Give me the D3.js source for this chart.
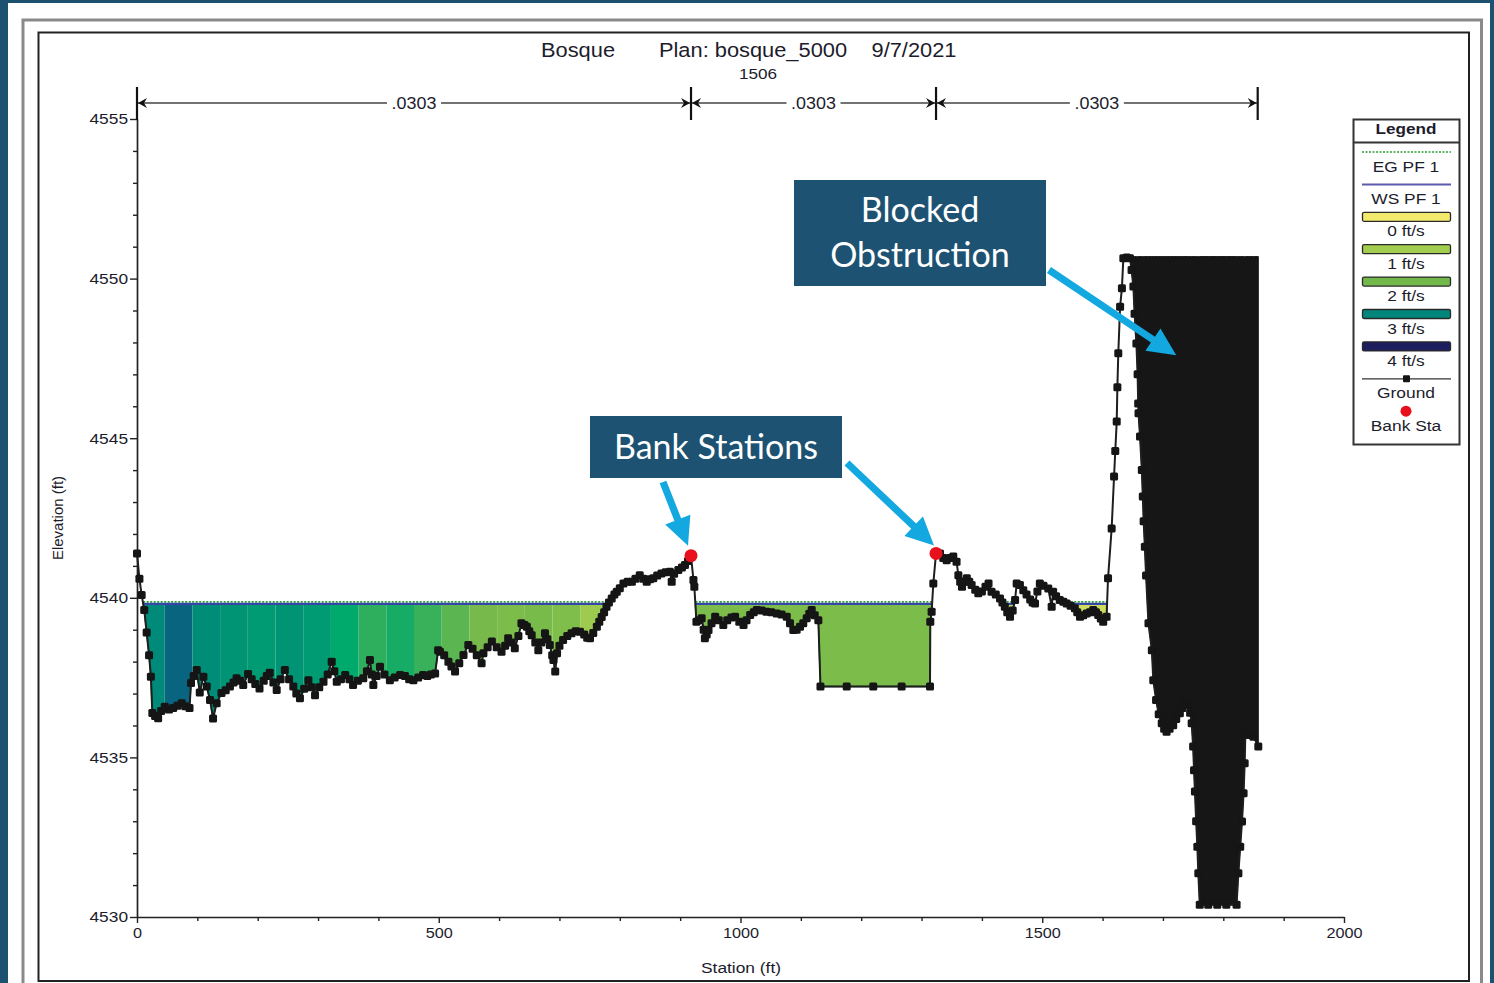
<!DOCTYPE html>
<html><head><meta charset="utf-8">
<script src="https://cdn.jsdelivr.net/npm/d3@7"></script>
<style>
html,body{margin:0;padding:0;background:#1d5170;}
svg{display:block;}
</style></head>
<body>
<svg id="chart" width="1494" height="983"></svg>
<script>
// ---------------- DATA ----------------
const titleParts = ["Bosque", "Plan: bosque_5000", "9/7/2021"];
const subTitle = "1506";
const xLabel = "Station (ft)";
const yLabel = "Elevation (ft)";
const xMajorTicks = [0, 500, 1000, 1500, 2000];
const xMinorTicks = [100,200,300,400,600,700,800,900,1100,1200,1300,1400,1600,1700,1800,1900];
const yMajorTicks = [4530, 4535, 4540, 4545, 4550, 4555];
const yMinorTicks = [4531,4532,4533,4534,4536,4537,4538,4539,4541,4542,4543,4544,4546,4547,4548,4549,4551,4552,4553,4554];

// ground stations (ft) and elevations (ft)
const groundSta = [
0,4,7.7,12,16,20,23,25.4,30,35,40,46,53,60,67,74,80,87,89.5,94,99,104,110,115.5,121,126,132,140,147,154,160,165,171,176,184,190,196,203,210,215,220,226,231.5,238,245,252,259,264,270,277,284,289,295,302,309,316,322.6,327,331,338,345,352,358,366,375,381,386,389,391.6,397,402.6,410,419,427,436,444,451,458,466,474,481,487,494,499,502,509,516,521,527,534,541,549,556,563,571,574,581,588,596,604,610,615,621,626,632,637,642,646,650,654,660,665,670,676,680,684,688,690,693,696,700,706,713,720,727,734,741,746,750.6,756,762,766,770,774,778,782,786.6,791,795,800,806,813,820,826,833,839,844.6,850,855.5,862,869,876,883,886,890,897,903,908,913,918,
922,923.5,927,931,935.6,939,941,944,947,952,958,964,971.5,978,985,991,998,1005,1010,1016,1022,1027,1035,1043,1051,1060,1068,1076.6,1082,1087.5,1093,1098.6,1104,1109.7,1114,1118,1123,1129,1132.5,1176,1220,1267,1314,1314.5,1316.7,1319.5,1324,
1330.6,1336,1341.6,1347,1352.6,1358,1361,1364,1367,1371,1375,1379,1383,1389,1394,1400,1406,1411,1416,1423,1430,1434,1438,1442,1446.6,1451,1455,1457.6,1463,1468.6,1474,1480,1484,1488,1492,1496,1502,1510,1515.6,1518,1523,1529,1535,1540.5,1547,1554,1558,1562.6,1568,1573.6,1579,1584.5,1589,1592.8,1597,1601,1606.6,1609,1615,1619,1621,1623.4,1624.5,1626,1629,1632,1634.4,1640,1645.4,1648,1651,1653,1656,1658,1659,1659.5,1662,1665,1666.6,1668,1670,1672,1676,1681.6,1684,1688.6,1693,1698,1702,1706,1711,1717,1722,1728,1732,1736.5,1742,1745,1747.6,1750,1751.5,1753,1755,1757,1758.6,1761,1775,1790,1805,1822,1825,1828,1831,1833.6,1835.4,1836.6,1843,1850,1858];
const groundElev = [
4541.39,4540.6,4540.09,4539.62,4538.91,4538.2,4537.53,4536.39,4536.3,4536.23,4536.45,4536.59,4536.5,4536.55,4536.62,4536.7,4536.6,4536.55,4537.33,4537.55,4537.74,4537.03,4537.53,4537.22,4536.8,4536.22,4536.7,4537.02,4537.1,4537.22,4537.35,4537.48,4537.4,4537.27,4537.61,4537.45,4537.3,4537.16,4537.4,4537.55,4537.65,4537.35,4537.11,4537.45,4537.74,4537.45,4537.22,4537.0,4536.85,4537.15,4537.42,4537.2,4536.95,4537.2,4537.37,4537.6,4538.0,4537.7,4537.37,4537.45,4537.58,4537.45,4537.27,4537.4,4537.48,4537.7,4538.05,4537.6,4537.27,4537.55,4537.84,4537.6,4537.42,4537.5,4537.58,4537.55,4537.45,4537.42,4537.5,4537.58,4537.55,4537.6,4537.63,4538.36,4538.31,4538.2,4538.0,4537.85,4537.69,4537.95,4538.21,4538.52,4538.4,4538.2,4537.95,4538.26,4538.45,4538.63,4538.45,4538.31,4538.5,4538.73,4538.6,4538.42,4538.8,4539.2,4539.15,4539.09,4538.95,4538.83,4538.6,4538.36,4538.6,4538.89,4538.7,4538.52,4538.2,4538.05,4537.69,4538.26,4538.5,4538.68,4538.8,4538.89,4538.95,4538.94,4538.85,4538.75,4538.73,4538.9,4539.09,4539.25,4539.4,4539.55,4539.72,4539.85,4539.98,4540.1,4540.19,4540.3,4540.45,4540.5,4540.5,4540.6,4540.71,4540.6,4540.5,4540.58,4540.61,4540.7,4540.76,4540.8,4540.82,4540.5,4540.75,4540.87,4540.95,4541.03,4541.15,4541.32,
4540.56,4540.35,4539.25,4539.3,4539.36,4539.0,4538.73,4538.85,4538.99,4539.2,4539.41,4539.3,4539.15,4539.3,4539.38,4539.41,4539.25,4539.15,4539.3,4539.46,4539.55,4539.62,4539.6,4539.56,4539.55,4539.51,4539.48,4539.41,4539.2,4538.99,4539.0,4539.09,4539.2,4539.36,4539.5,4539.62,4539.45,4539.3,4537.22,4537.22,4537.22,4537.22,4537.22,4539.25,4539.56,4540.45,4541.39,
4541.39,4541.25,4541.18,4541.25,4541.29,4541.13,4540.71,4540.5,4540.35,4540.5,4540.61,4540.5,4540.4,4540.25,4540.14,4540.2,4540.35,4540.45,4540.19,4540.1,4539.98,4539.85,4539.72,4539.55,4539.41,4539.6,4539.93,4540.45,4540.4,4540.24,4540.1,4539.95,4539.85,4539.82,4540.2,4540.45,4540.38,4540.29,4539.72,4540.19,4540.05,4539.93,4539.88,4539.82,4539.75,4539.67,4539.55,4539.41,4539.45,4539.51,4539.55,4539.62,4539.55,4539.46,4539.35,4539.25,4539.41,4540.61,4542.17,4543.8,4544.6,4545.52,4546.6,4547.66,4549.12,4549.7,4550.64,4550.66,4550.64,4550.27,4549.75,4548.9,4547.97,4547.0,4546.09,4545.78,4545.05,4544.0,4543.17,4542.4,4541.6,4540.7,4539.2,4538.36,4537.42,4536.8,4536.35,4536.07,4535.9,4535.8,4535.9,4536.01,4536.2,4536.38,4536.55,4536.74,4536.64,4536.4,4536.07,4535.34,4534.6,4533.93,4533.0,4532.2,4531.37,4530.38,4530.38,4530.38,4530.38,4530.38,4531.37,4532.2,4532.99,4533.88,4534.82,4535.75,4535.7,4535.65,4535.34];

const bankSta = [918, 1324];
const bankElev = [4541.32, 4541.39];
const wsElev = 4539.81;   // WS PF 1
const egElev = 4539.87;   // EG PF 1
const blockStart = 1645.4, blockEnd = 1858, blockElev = 4550.69;  // blocked obstruction

// Manning's n regions
const nSta = [0, 918, 1324, 1857];
const nVals = [".0303", ".0303", ".0303"];

// velocity distribution slices (ft) and velocities (ft/s)
const sliceEdges = [0,45.9,91.8,137.7,183.6,229.5,275.4,321.3,367.2,413.1,459,504.9,550.8,596.7,642.6,688.5,734.4,780.3,826.2,872.1,918,1324,1500,1858];
const sliceVel = [2.95,3.4,2.9,2.8,2.7,2.8,2.7,2.5,2.3,2.4,2.25,2.1,1.9,1.8,1.85,1.7,1.1,0.9,0.6,0.5,1.8,0.6,0.45];

// velocity colour ramp
const velStops = [0, 1, 2, 2.5, 3, 3.5, 4];
const velColors = ["#f2ea6d","#a2cd4f","#72b84a","#00a96c","#00867a","#0a5c80","#1c1e5e"];

const legendLabels = ["EG PF 1","WS PF 1","0 ft/s","1 ft/s","2 ft/s","3 ft/s","4 ft/s","Ground","Bank Sta"];
const legendVel = [0,1,2,3,4];

const callouts = [["Bank Stations"], ["Blocked","Obstruction"]];

// ---------------- DRAW ----------------
const svg = d3.select("#chart");
const SX = 1.12; // horizontal text stretch of the original print
const FONT = "'Liberation Sans', Arial, sans-serif";
const TXT = "#1c1c2c";

// frame
svg.append("rect").attr("x",8).attr("y",3).attr("width",1482).attr("height",990).attr("fill","#fff");
svg.append("rect").attr("x",23).attr("y",20).attr("width",1458.5).attr("height",990).attr("fill","none").attr("stroke","#8a8a8a").attr("stroke-width",3);
svg.append("rect").attr("x",38.5).attr("y",32.5).attr("width",1430.5).attr("height",948.5).attr("fill","none").attr("stroke","#222").attr("stroke-width",2);

const x = d3.scaleLinear().domain([0,2000]).range([137,1344]);
const y = d3.scaleLinear().domain([4530,4555]).range([917,119]);
const velColor = d3.scaleLinear().domain(velStops).range(velColors).clamp(true);

function stext(g, tx, ty, str, size, opts={}) {
  const t = g.append("text")
    .attr("transform", `translate(${tx},${ty}) scale(${opts.sx||SX},1)`)
    .attr("font-family", FONT).attr("font-size", size)
    .attr("fill", opts.fill||TXT)
    .attr("text-anchor", opts.anchor||"middle")
    .attr("font-weight", opts.weight||"normal")
    .text(str);
  return t;
}

// title
const titleX = [578, 753, 914];
titleParts.forEach((s,i)=> stext(svg, titleX[i], 57, s, 19.5));
stext(svg, 758, 79, subTitle, 15.3);

// ground objects
const ground = groundSta.map((s,i)=>({s, e: groundElev[i]}));

// wet points with WS crossings
const aug = [];
for (let i=0;i<ground.length;i++){
  const p = ground[i];
  if (i>0){
    const q = ground[i-1];
    if ((q.e - wsElev)*(p.e - wsElev) < 0){
      const t = (wsElev - q.e)/(p.e - q.e);
      aug.push({s: q.s + t*(p.s-q.s), e: wsElev, wet:true});
    }
  }
  aug.push({s:p.s, e:p.e, wet: p.e <= wsElev && p.s < blockStart});
}

const defs = svg.append("defs");
const waterArea = d3.area().defined(d=>d.wet).x(d=>x(d.s)).y0(y(wsElev)).y1(d=>y(d.e));
defs.append("clipPath").attr("id","waterClip").append("path").attr("d", waterArea(aug));

// velocity slices
const slices = sliceVel.map((v,i)=>({x0: sliceEdges[i], x1: sliceEdges[i+1], v}));
svg.append("g").attr("clip-path","url(#waterClip)")
  .selectAll("rect").data(slices).join("rect")
  .attr("x", d=>x(d.x0)).attr("width", d=>x(d.x1)-x(d.x0))
  .attr("y", y(wsElev)).attr("height", y(4530)-y(wsElev))
  .attr("fill", d=>velColor(d.v));
svg.append("path").attr("d", waterArea(aug)).attr("fill","none").attr("stroke","#1d6b35").attr("stroke-width",1.4);

// EG & WS lines over wet spans
const hline = el => d3.line().defined(d=>d.wet).x(d=>x(d.s)).y(()=>y(el));
svg.append("path").attr("d", hline(egElev)(aug)).attr("fill","none").attr("stroke","#2aa035").attr("stroke-width",1.8).attr("stroke-dasharray","2,1.5");
svg.append("path").attr("d", hline(wsElev)(aug)).attr("fill","none").attr("stroke","#3646a8").attr("stroke-width",2.2);

// blocked obstruction
const blockPts = ground.filter(d=>d.s>=blockStart && d.s<=blockEnd);
svg.append("path").datum(blockPts)
  .attr("d", d3.area().x(d=>x(d.s)).y0(y(blockElev)).y1(d=>y(d.e)))
  .attr("fill","#161616").attr("stroke","#161616").attr("stroke-width",1);

// axes
const gx = svg.append("g").attr("transform",`translate(0,${y(4530)})`);
gx.call(d3.axisBottom(x).tickValues(xMajorTicks).tickSize(6).tickSizeOuter(0).tickPadding(5).tickFormat(d3.format("d")));
const gxm = svg.append("g").attr("transform",`translate(0,${y(4530)})`);
gxm.call(d3.axisBottom(x).tickValues(xMinorTicks).tickSize(4).tickSizeOuter(0).tickFormat(""));
gxm.select(".domain").remove();
const gy = svg.append("g").attr("transform",`translate(${x(0)},0)`);
gy.call(d3.axisLeft(y).tickValues(yMajorTicks).tickSize(7).tickSizeOuter(0).tickPadding(1).tickFormat(d3.format("d")));
const gym = svg.append("g").attr("transform",`translate(${x(0)},0)`);
gym.call(d3.axisLeft(y).tickValues(yMinorTicks).tickSize(4).tickSizeOuter(0).tickFormat(""));
gym.select(".domain").remove();
[gx,gxm,gy,gym].forEach(g=>{
  g.selectAll(".domain").attr("stroke","#222").attr("stroke-width",1.7);
  g.selectAll(".tick line").attr("stroke","#222").attr("stroke-width",1.4);
});
gx.selectAll(".tick text").attr("font-family",FONT).attr("font-size",14.5).attr("fill",TXT).attr("transform",`scale(${SX},1)`);
gy.selectAll(".tick text").attr("font-family",FONT).attr("font-size",15.5).attr("fill",TXT).attr("transform",`scale(${SX},1)`);

// axis titles
stext(svg, 741, 973, xLabel, 15.5);
svg.append("text").attr("transform","translate(63,518) rotate(-90)")
  .attr("font-family",FONT).attr("font-size",15).attr("fill",TXT).attr("text-anchor","middle").text(yLabel);

// Manning n bar
const nY = 103;
const nG = svg.append("g");
nG.append("line").attr("x1",x(nSta[0])).attr("x2",x(nSta[nSta.length-1])).attr("y1",nY).attr("y2",nY).attr("stroke","#444").attr("stroke-width",1.6);
nSta.forEach(s=>{
  nG.append("line").attr("x1",x(s)).attr("x2",x(s)).attr("y1",nY-16).attr("y2",nY+17).attr("stroke","#111").attr("stroke-width",2.2);
});
for (let i=0;i<nVals.length;i++){
  const a = x(nSta[i]), b = x(nSta[i+1]);
  nG.append("path").attr("d",`M${a+1},${nY} L${a+10},${nY-5} L${a+7},${nY} L${a+10},${nY+5} Z`).attr("fill","#111");
  nG.append("path").attr("d",`M${b-1},${nY} L${b-10},${nY-5} L${b-7},${nY} L${b-10},${nY+5} Z`).attr("fill","#111");
  const cx = (a+b)/2;
  nG.append("rect").attr("x",cx-27).attr("y",nY-8).attr("width",54).attr("height",16).attr("fill","#fff");
  stext(nG, cx, nY+6, nVals[i], 16);
}

// ground line & markers
svg.append("path").datum(ground).attr("d", d3.line().x(d=>x(d.s)).y(d=>y(d.e)))
  .attr("fill","none").attr("stroke","#1e1e1e").attr("stroke-width",2);
svg.append("g").selectAll("rect").data(ground).join("rect")
  .attr("x",d=>x(d.s)-4).attr("y",d=>y(d.e)-4).attr("width",8).attr("height",8).attr("rx",1.5)
  .attr("fill","#151515");

// bank stations
svg.append("g").selectAll("circle").data(bankSta).join("circle")
  .attr("cx",(d)=>x(d)).attr("cy",(d,i)=>y(bankElev[i])).attr("r",6.5).attr("fill","#e8101c");

// legend
const lg = svg.append("g");
lg.append("rect").attr("x",1353.5).attr("y",119.5).attr("width",106).attr("height",325).attr("fill","#fff").attr("stroke","#333").attr("stroke-width",2);
stext(lg, 1406, 134, "Legend", 15.3, {weight:"bold"});
lg.append("line").attr("x1",1353.5).attr("x2",1459.5).attr("y1",142.5).attr("y2",142.5).attr("stroke","#333").attr("stroke-width",2);
legendLabels.forEach((lab,i)=>{
  const sy = 152 + i*32.4;
  if (i===0) lg.append("line").attr("x1",1362).attr("x2",1451).attr("y1",sy).attr("y2",sy).attr("stroke","#2aa035").attr("stroke-width",1.6).attr("stroke-dasharray","2,1.5");
  else if (i===1) lg.append("line").attr("x1",1362).attr("x2",1451).attr("y1",sy).attr("y2",sy).attr("stroke","#5a5ab0").attr("stroke-width",2);
  else if (i>=2 && i<=6) lg.append("rect").attr("x",1362.5).attr("y",sy-4.5).attr("width",88).attr("height",9).attr("rx",1.5)
     .attr("fill",velColor(legendVel[i-2])).attr("stroke","#2a2a2a").attr("stroke-width",1.3);
  else if (i===7){
    lg.append("line").attr("x1",1362).attr("x2",1451).attr("y1",sy).attr("y2",sy).attr("stroke","#333").attr("stroke-width",1.3);
    lg.append("rect").attr("x",1403).attr("y",sy-3.5).attr("width",7).attr("height",7).attr("rx",1).attr("fill","#151515");
  } else lg.append("circle").attr("cx",1406).attr("cy",sy).attr("r",5.5).attr("fill","#e8101c");
  stext(lg, 1406, sy+19.5, lab, 15.5);
});

// callouts
const CALL = "#1d5272", ARROW = "#14a8e0";
function arrow(x1,y1,x2,y2){
  const dx=x2-x1, dy=y2-y1, L=Math.hypot(dx,dy), ux=dx/L, uy=dy/L, px=-uy, py=ux;
  const sw=3.6, hl=28, hw=13.5;
  const bx=x2-ux*hl, by=y2-uy*hl;
  const pts=[[x1+px*sw,y1+py*sw],[bx+px*sw,by+py*sw],[bx+px*hw,by+py*hw],[x2,y2],[bx-px*hw,by-py*hw],[bx-px*sw,by-py*sw],[x1-px*sw,y1-py*sw]];
  svg.append("polygon").attr("points",pts.map(p=>p.join(",")).join(" ")).attr("fill",ARROW);
}
const AF = "Lato, 'Open Sans', sans-serif";
// Bank Stations
svg.append("rect").attr("x",590).attr("y",416).attr("width",252).attr("height",62).attr("fill",CALL);
svg.append("text").attr("x",716).attr("y",459).attr("text-anchor","middle").attr("font-family",AF).attr("font-size",34).attr("fill","#fff").text(callouts[0][0]);
arrow(663,482, x(bankSta[0])-3, y(bankElev[0])-10);
arrow(847,463, x(bankSta[1])-2, y(bankElev[1])-8);
// Blocked Obstruction
svg.append("rect").attr("x",794).attr("y",180).attr("width",252).attr("height",106).attr("fill",CALL);
callouts[1].forEach((s,i)=> svg.append("text").attr("x",920).attr("y",222+i*45).attr("text-anchor","middle").attr("font-family",AF).attr("font-size",34).attr("fill","#fff").text(s));
arrow(1049,270, x(1722), y(4547.6));
</script>
</body></html>
